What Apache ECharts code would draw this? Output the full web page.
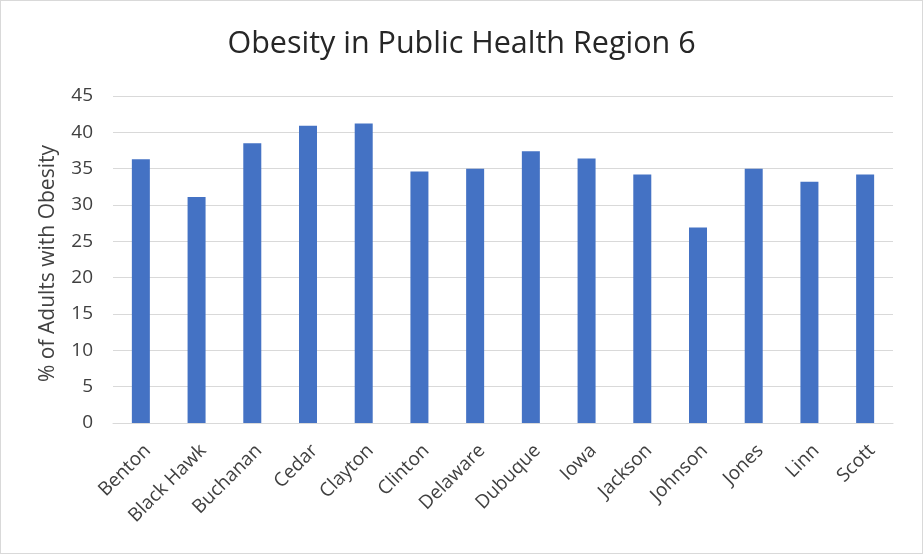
<!DOCTYPE html>
<html><head><meta charset="utf-8">
<script src="https://cdn.jsdelivr.net/npm/echarts@6/dist/echarts.min.js"></script>
<style>html,body{margin:0;padding:0;background:#fff;}#c{position:absolute;left:0;top:0;width:921px;height:552px;border:1px solid #d9d9d9;}</style>
</head><body><div id="c"></div>
<script>
const categories = ["Benton","Black Hawk","Buchanan","Cedar","Clayton","Clinton","Delaware","Dubuque","Iowa","Jackson","Johnson","Jones","Linn","Scott"];
const values = [36.3, 31.1, 38.5, 40.9, 41.2, 34.6, 35.0, 37.4, 36.4, 34.2, 26.9, 35.0, 33.2, 34.2];
const titleText = "Obesity in Public Health Region 6";
const yAxisName = "% of Adults with Obesity";

const chart = echarts.init(document.getElementById('c'), null, {renderer:'canvas'});
const font = "'Open Sans', 'Liberation Sans', sans-serif";
chart.setOption({
  animation:false,
  title:{text:titleText,left:'center',top:23,textStyle:{fontFamily:font,fontSize:30.5,fontWeight:'normal',color:'#262626'}},
  grid:{left:112,right:29,top:95,bottom:130},
  xAxis:{type:'category',data:categories,
    axisLine:{lineStyle:{color:'#d9d9d9'}},axisTick:{show:false},
    axisLabel:{rotate:45,fontFamily:font,fontSize:19,color:'#404040',margin:18,verticalAlign:'top'}},
  yAxis:{type:'value',min:0,max:45,interval:5,
    name:yAxisName,nameLocation:'middle',nameGap:54,
    nameTextStyle:{fontFamily:font,fontSize:21,color:'#404040',padding:[0,8,0,0]},
    axisLine:{show:false},axisTick:{show:false},
    axisLabel:{fontFamily:font,fontSize:19,color:'#404040',margin:20},
    splitLine:{lineStyle:{color:'#d9d9d9'}}},
  series:[{type:'bar',data:values,barWidth:18,itemStyle:{color:'#4472c4'}}]
});
</script></body></html>
